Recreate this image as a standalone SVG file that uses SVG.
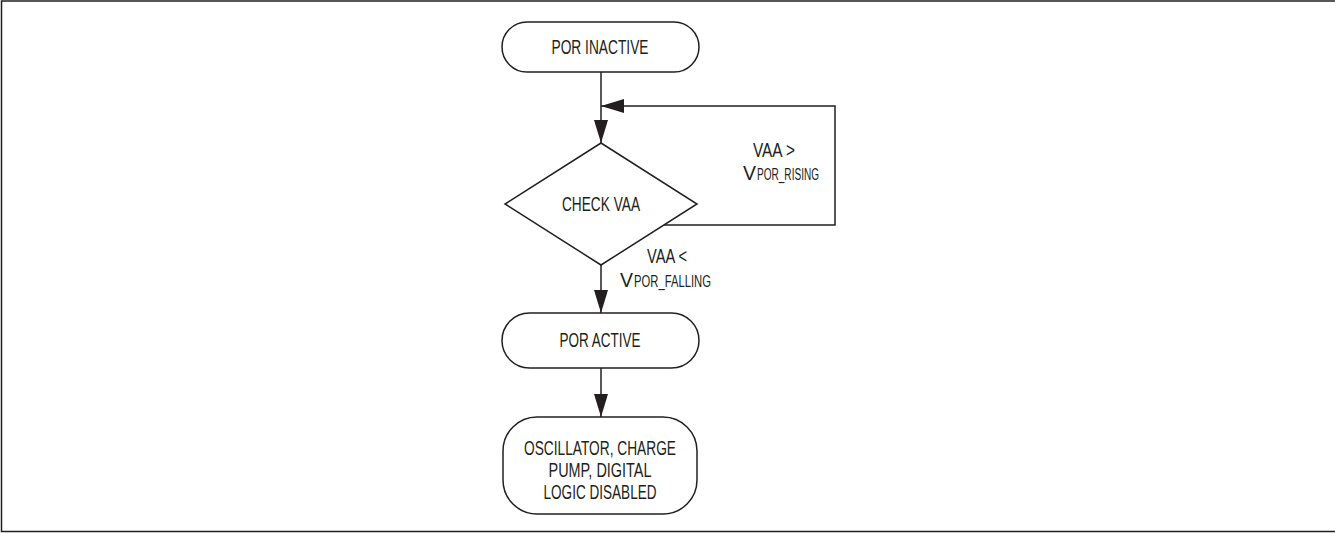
<svg xmlns="http://www.w3.org/2000/svg" width="1335" height="533" viewBox="0 0 1335 533">
<style>
.ln{fill:none;stroke:#231f20;stroke-width:1.5}
.nd{fill:#fff;stroke:#231f20;stroke-width:1.5}
.t{font-family:"Liberation Sans",Arial,sans-serif;font-size:21px;fill:#231f20}
.s{font-size:16px}
</style>
<defs>
<marker id="ah" markerUnits="userSpaceOnUse" markerWidth="24" markerHeight="14" viewBox="0 0 24 14" refX="23" refY="7" orient="auto">
<path d="M0,0 L23,7 L0,14 Z" fill="#231f20"/>
</marker>
</defs>
<rect width="1335" height="533" fill="#fff"/>
<path class="ln" d="M1335,1 H1.5 V531.5 H1335" stroke-width="2"/>
<g id="connectors">
<path class="ln" d="M601,72 V143" marker-end="url(#ah)"/>
<path class="ln" d="M664,225 H835 V106 H601" marker-end="url(#ah)"/>
<path class="ln" d="M601,265 V313" marker-end="url(#ah)"/>
<path class="ln" d="M601,368 V417" marker-end="url(#ah)"/>
<text class="t" x="753" y="157" textLength="42" lengthAdjust="spacingAndGlyphs">VAA &gt;</text>
<text class="t" x="743" y="180" textLength="13" lengthAdjust="spacingAndGlyphs">V</text>
<text class="t s" x="757" y="180" textLength="62" lengthAdjust="spacingAndGlyphs">POR_RISING</text>
<text class="t" x="647" y="263" textLength="40" lengthAdjust="spacingAndGlyphs">VAA &lt;</text>
<text class="t" x="620" y="287" textLength="13" lengthAdjust="spacingAndGlyphs">V</text>
<text class="t s" x="634" y="287" textLength="77" lengthAdjust="spacingAndGlyphs">POR_FALLING</text>
</g>
<g id="por-inactive">
<rect class="nd" x="502" y="22" width="197" height="50" rx="25"/>
<text class="t" x="600" y="54" text-anchor="middle" textLength="97" lengthAdjust="spacingAndGlyphs">POR INACTIVE</text>
</g>
<g id="check-vaa">
<path class="nd" d="M601,143 L697,204 L601,265 L505,204 Z"/>
<text class="t" x="601" y="211" text-anchor="middle" textLength="78" lengthAdjust="spacingAndGlyphs">CHECK VAA</text>
</g>
<g id="por-active">
<rect class="nd" x="502" y="313" width="197" height="55" rx="27.5"/>
<text class="t" x="600" y="347" text-anchor="middle" textLength="81" lengthAdjust="spacingAndGlyphs">POR ACTIVE</text>
</g>
<g id="disabled">
<rect class="nd" x="503" y="417" width="194" height="97" rx="34"/>
<text class="t" x="600" y="455" text-anchor="middle" textLength="152" lengthAdjust="spacingAndGlyphs">OSCILLATOR, CHARGE</text>
<text class="t" x="600" y="477" text-anchor="middle" textLength="103" lengthAdjust="spacingAndGlyphs">PUMP, DIGITAL</text>
<text class="t" x="600" y="499" text-anchor="middle" textLength="113" lengthAdjust="spacingAndGlyphs">LOGIC DISABLED</text>
</g>
</svg>
